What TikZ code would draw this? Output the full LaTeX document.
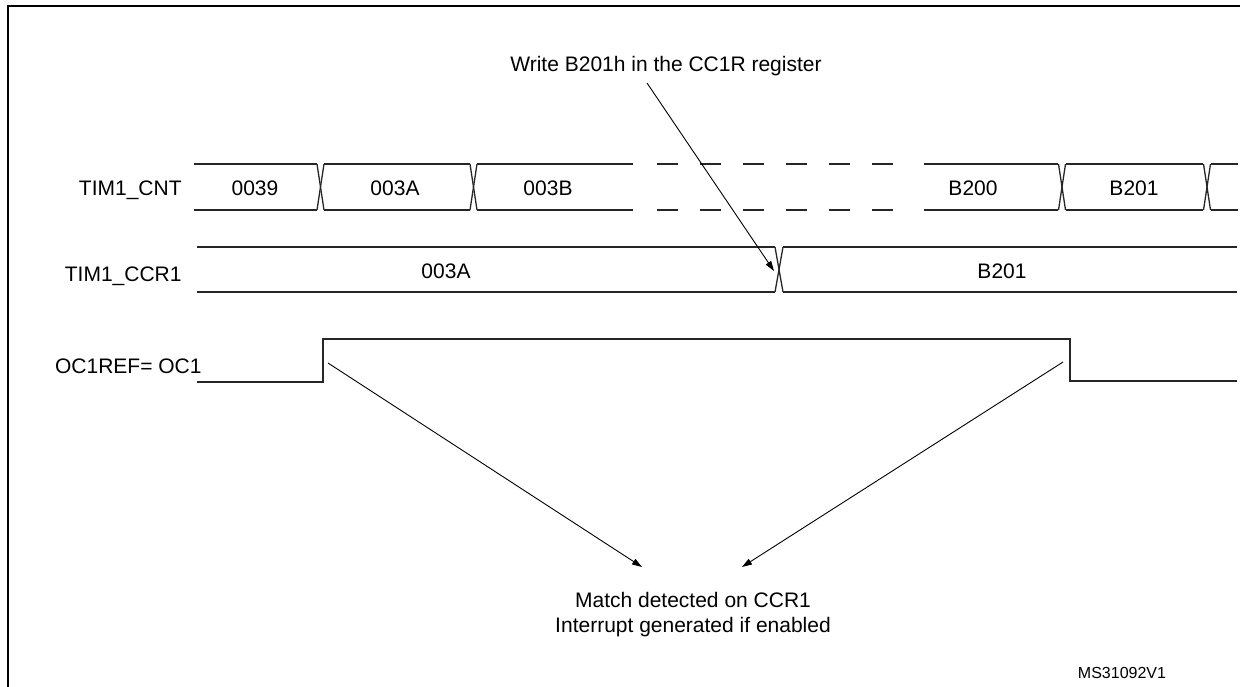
\documentclass[tikz,border=0pt]{standalone}
\usepackage{fontspec}
\setmainfont{Liberation Sans}
\usetikzlibrary{arrows.meta}

\tikzset{sig/.style={line width=0.65pt, black!85},
         ptr/.style={line width=0.45pt, -{Triangle[length=5pt,width=3.2pt]}},
         lbl/.style={font=\fontsize{10.5}{12.5}\selectfont, inner sep=0pt}}

\begin{document}
\begin{tikzpicture}[x=0.5pt,y=-0.5pt]
\useasboundingbox (0,0) rectangle (1240,686);
\draw[line width=1pt] (8,700) -- (8,6) -- (1250,6);
% signal names
\node[lbl, anchor=base east] (cnt) at (182,195){TIM1\_CNT};
\node[lbl, anchor=base east] (ccr) at (182,281){TIM1\_CCR1};
\node[lbl, anchor=base east] (ref) at (202,373){OC1REF= OC1};
% counter bus
\foreach \y in {164,210}{
	\foreach \a/\b in {194/317,324/470,477/633,924/1058,1066/1203,1211/1238}{
		\draw[sig] (\a,\y) -- (\b,\y);
		}
	\draw[sig, dash pattern=on 10.5pt off 11pt] (657,\y) -- (893,\y);
	}
\foreach \c in {320.5,473.5,1062,1207}{
	\draw[sig] (\c-3.5,164) -- (\c+3.5,210);
	\draw[sig] (\c-3.5,210) -- (\c+3.5,164);
	}
\foreach \x/\t in {255/0039,395/003A,548/003B,973/B200,1134/B201}{
	\node[lbl, anchor=base] at (\x,195){\t};
	}
% compare register
\foreach \y in {247,292}{
	\draw[sig] (197,\y) -- (775,\y);
	\draw[sig] (783,\y) -- (1237,\y);
	}
\draw[sig] (775,247) -- (783,292);
\draw[sig] (775,292) -- (783,247);
\node[lbl, anchor=base] (old) at (446,278){003A};
\node[lbl, anchor=base] (new) at (1002,278){B201};
% output
\draw[sig] (197,382) -- (323,382) -- (323,339) -- (1070,339) -- (1070,381) -- (1237,381);
% notes
\node[lbl, anchor=base] (wr) at (666,71){Write B201h in the CC1R register};
\node[lbl, anchor=north, align=center] (match) at (693,592){Match detected on CCR1\\Interrupt generated if enabled};
\node[font=\fontsize{8}{9.6}\selectfont, inner sep=0pt, anchor=base] (id) at (1122,678){MS31092V1};
\coordinate (w1) at (647,83);
\coordinate (w2) at (774,271);
\coordinate (up) at (328,363);
\coordinate (dn) at (1063,362);
\coordinate (m1) at (642,567);
\coordinate (m2) at (742,567);
\draw[ptr] (w1) -- (w2);
\draw[ptr] (up) -- (m1);
\draw[ptr] (dn) -- (m2);
\end{tikzpicture}
\end{document}
